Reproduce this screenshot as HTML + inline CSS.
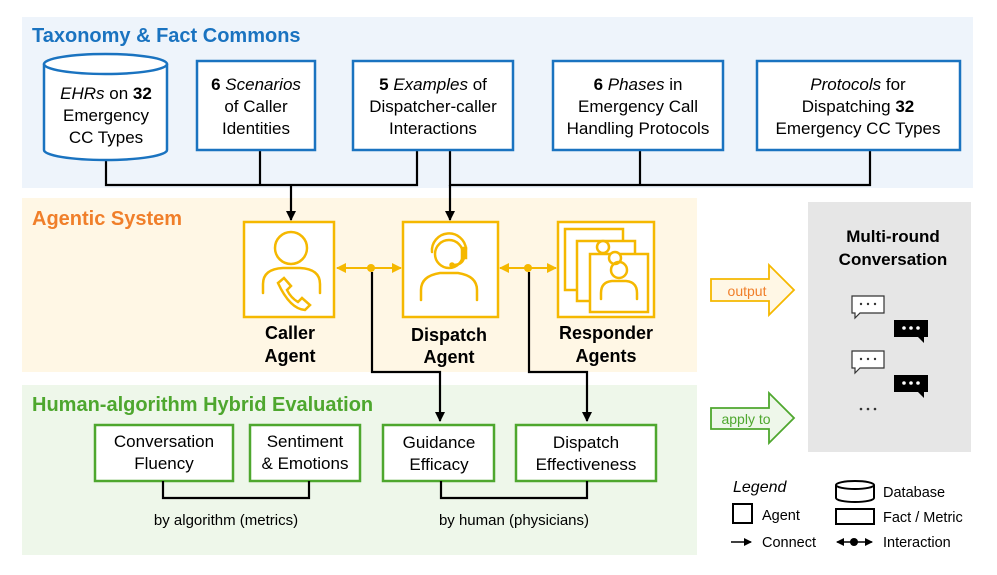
<!DOCTYPE html>
<html><head><meta charset="utf-8"><style>
body{margin:0;background:#fff}
svg{display:block;font-family:"Liberation Sans",Arial,sans-serif}
</style></head><body>
<svg width="997" height="575" viewBox="0 0 997 575" xmlns="http://www.w3.org/2000/svg">
<defs>
<marker id="ar" markerWidth="10" markerHeight="10" refX="9" refY="5" orient="auto" markerUnits="userSpaceOnUse"><path d="M0,0 L10,5 L0,10 z" fill="#000"/></marker>
<marker id="ay" markerWidth="10" markerHeight="10" refX="9" refY="5" orient="auto-start-reverse" markerUnits="userSpaceOnUse"><path d="M0,0 L10,5 L0,10 z" fill="#f5b800"/></marker>
<marker id="ak" markerWidth="8" markerHeight="8" refX="7" refY="4" orient="auto-start-reverse" markerUnits="userSpaceOnUse"><path d="M0,0 L8,4 L0,8 z" fill="#000"/></marker>
</defs>
<rect x="22" y="17" width="951" height="171" fill="#eef4fb"/>
<rect x="22" y="198" width="675" height="174" fill="#fff7e5"/>
<rect x="22" y="385" width="675" height="170" fill="#eef7ea"/>
<rect x="808" y="202" width="163" height="250" fill="#e6e6e6"/>
<text x="32" y="42" font-size="20" font-weight="bold" fill="#1a73c0">Taxonomy &amp; Fact Commons</text>
<text x="32" y="225" font-size="20" font-weight="bold" fill="#f07f2a">Agentic System</text>
<text x="32" y="411" font-size="20" font-weight="bold" fill="#4ea72e">Human-algorithm Hybrid Evaluation</text>

<g stroke="#000" stroke-width="2.2" fill="none">
<polyline points="106,160 106,185 417,185 417,150"/>
<line x1="260" y1="150" x2="260" y2="185"/>
<polyline points="450,150 450,185 870,185 870,150"/>
<line x1="640" y1="150" x2="640" y2="185"/>
<line x1="291" y1="185" x2="291" y2="220" marker-end="url(#ar)"/>
<line x1="450" y1="185" x2="450" y2="220" marker-end="url(#ar)"/>
</g>
<g stroke="#1a73c0" stroke-width="2.5" fill="#fff">
<path d="M44,64 L44,150 A61.5,10 0 0 0 167,150 L167,64"/>
<ellipse cx="105.5" cy="64" rx="61.5" ry="10"/>
<rect x="197" y="61" width="118" height="89"/>
<rect x="353" y="61" width="160" height="89"/>
<rect x="553" y="61" width="170" height="89"/>
<rect x="757" y="61" width="203" height="89"/>
</g>
<g font-size="17" fill="#000" text-anchor="middle">
<text x="106" y="99"><tspan font-style="italic">EHRs</tspan> on <tspan font-weight="bold">32</tspan></text>
<text x="106" y="121">Emergency</text><text x="106" y="143">CC Types</text>
<text x="256" y="90"><tspan font-weight="bold">6</tspan> <tspan font-style="italic">Scenarios</tspan></text>
<text x="256" y="112">of Caller</text><text x="256" y="134">Identities</text>
<text x="433" y="90"><tspan font-weight="bold">5</tspan> <tspan font-style="italic">Examples</tspan> of</text>
<text x="433" y="112">Dispatcher-caller</text><text x="433" y="134">Interactions</text>
<text x="638" y="90"><tspan font-weight="bold">6</tspan> <tspan font-style="italic">Phases</tspan> in</text>
<text x="638" y="112">Emergency Call</text><text x="638" y="134">Handling Protocols</text>
<text x="858" y="90"><tspan font-style="italic">Protocols</tspan> for</text>
<text x="858" y="112">Dispatching <tspan font-weight="bold">32</tspan></text><text x="858" y="134">Emergency CC Types</text>
</g>

<g stroke="#f5b800" stroke-width="2.5" fill="#fff">
<rect x="244" y="222" width="90" height="95"/>
<rect x="403" y="222" width="95" height="95"/>
<rect x="558" y="222" width="96" height="95"/>
<rect x="565" y="229" width="58" height="61"/>
<rect x="577" y="241" width="58" height="60"/>
<rect x="590" y="254" width="58" height="58"/>
</g>
<g stroke="#f5b800" stroke-width="2.5" fill="none" stroke-linecap="round">
<circle cx="291" cy="248" r="16"/>
<path d="M263,293 L263,284 Q263,269 283,268 L300,268 Q320,269 320,284 L320,293"/>
<path d="M278,283 l6,-5 l7,8 l-4,4 q4,8 11,12 l4,-4 l8,7 l-5,5 q-15,-1 -27,-27z" fill="#fff"/>
<circle cx="449" cy="254" r="14"/>
<path d="M432,252 a17,17 0 0 1 34,-3" />
<rect x="462" y="248" width="4" height="10" fill="#f5b800"/>
<path d="M464,258 q-2,7 -11,7"/>
<circle cx="452" cy="265" r="1.5" fill="#f5b800"/>
<path d="M421,300 L421,290 Q421,276 440,273 L458,273 Q477,276 477,290 L477,300"/>
<circle cx="603" cy="247" r="6" fill="#fff"/>
<circle cx="615" cy="258" r="6" fill="#fff"/>
<circle cx="619" cy="270" r="8"/>
<path d="M601,299 L601,293 Q601,282 612,281 L626,281 Q637,282 637,293 L637,299"/>
</g>
<g font-size="18" font-weight="bold" fill="#000" text-anchor="middle">
<text x="290" y="339">Caller</text><text x="290" y="362">Agent</text>
<text x="449" y="341">Dispatch</text><text x="449" y="363">Agent</text>
<text x="606" y="339">Responder</text><text x="606" y="362">Agents</text>
</g>
<g stroke="#f5b800" stroke-width="2">
<line x1="337" y1="268" x2="401" y2="268" marker-start="url(#ay)" marker-end="url(#ay)"/>
<line x1="500" y1="268" x2="556" y2="268" marker-start="url(#ay)" marker-end="url(#ay)"/>
</g>
<circle cx="371" cy="268" r="4" fill="#f5b800"/>
<circle cx="528" cy="268" r="4" fill="#f5b800"/>
<g stroke="#000" stroke-width="2.2" fill="none">
<polyline points="372,272 372,372 440,372 440,421" marker-end="url(#ar)"/>
<polyline points="529,272 529,372 587,372 587,421" marker-end="url(#ar)"/>
</g>

<g stroke="#4ea72e" stroke-width="2.5" fill="#fff">
<rect x="95" y="425" width="138" height="56"/>
<rect x="250" y="425" width="110" height="56"/>
<rect x="383" y="425" width="111" height="56"/>
<rect x="516" y="425" width="140" height="56"/>
</g>
<g stroke="#000" stroke-width="2.2" fill="none">
<polyline points="163,481 163,498 309,498 309,481"/>
<polyline points="441,481 441,498 587,498 587,481"/>
</g>
<g font-size="17" fill="#000" text-anchor="middle">
<text x="164" y="447">Conversation</text><text x="164" y="469">Fluency</text>
<text x="305" y="447">Sentiment</text><text x="305" y="469">&amp; Emotions</text>
<text x="439" y="448">Guidance</text><text x="439" y="470">Efficacy</text>
<text x="586" y="448">Dispatch</text><text x="586" y="470">Effectiveness</text>
<text x="226" y="525" font-size="15">by algorithm (metrics)</text>
<text x="514" y="525" font-size="15">by human (physicians)</text>
</g>

<path d="M711,279 L769,279 L769,265 L794,290 L769,315 L769,301 L711,301 z" fill="#fff7e5" stroke="#f5b800" stroke-width="1.8"/>
<text x="747" y="296" font-size="14" fill="#f07f2a" text-anchor="middle">output</text>
<path d="M711,408 L769,408 L769,393 L794,418 L769,443 L769,429 L711,429 z" fill="#eef7ea" stroke="#4ea72e" stroke-width="1.8"/>
<text x="746" y="424" font-size="14" fill="#4ea72e" text-anchor="middle">apply to</text>

<g font-size="17" font-weight="bold" fill="#000" text-anchor="middle">
<text x="893" y="242">Multi-round</text><text x="893" y="265">Conversation</text>
</g>
<g stroke="#333" stroke-width="1.2" fill="#fff">
<path d="M852,296 h32 v17 h-24 l-5,5 v-5 h-3 z"/>
<path d="M852,351 h32 v17 h-24 l-5,5 v-5 h-3 z"/>
</g>
<g fill="#000">
<path d="M894,320 h34 v17 h-4 v6 l-6,-6 h-24 z"/>
<path d="M894,375 h34 v17 h-4 v6 l-6,-6 h-24 z"/>
</g>
<g fill="#333"><circle cx="861" cy="304" r="1.2"/><circle cx="868" cy="304" r="1.2"/><circle cx="875" cy="304" r="1.2"/>
<circle cx="861" cy="359" r="1.2"/><circle cx="868" cy="359" r="1.2"/><circle cx="875" cy="359" r="1.2"/>
<circle cx="861" cy="409" r="1.3"/><circle cx="868" cy="409" r="1.3"/><circle cx="875" cy="409" r="1.3"/></g>
<g fill="#fff"><circle cx="904" cy="328" r="1.8"/><circle cx="911" cy="328" r="1.8"/><circle cx="918" cy="328" r="1.8"/>
<circle cx="904" cy="383" r="1.8"/><circle cx="911" cy="383" r="1.8"/><circle cx="918" cy="383" r="1.8"/></g>

<text x="733" y="492" font-size="16" font-style="italic">Legend</text>
<rect x="733" y="504" width="19" height="19" fill="#fff" stroke="#000" stroke-width="2"/>
<text x="762" y="520" font-size="14.5">Agent</text>
<line x1="731" y1="542" x2="751" y2="542" stroke="#000" stroke-width="1.5" marker-end="url(#ak)"/>
<text x="762" y="547" font-size="14.5">Connect</text>
<path d="M836,485 v13 a19,4 0 0 0 38,0 v-13" fill="#fff" stroke="#000" stroke-width="2"/>
<ellipse cx="855" cy="485" rx="19" ry="4" fill="#fff" stroke="#000" stroke-width="2"/>
<text x="883" y="497" font-size="14.5">Database</text>
<rect x="836" y="509" width="38" height="15" fill="#fff" stroke="#000" stroke-width="2"/>
<text x="883" y="522" font-size="14.5">Fact / Metric</text>
<line x1="837" y1="542" x2="872" y2="542" stroke="#000" stroke-width="1.5" marker-start="url(#ak)" marker-end="url(#ak)"/>
<circle cx="854" cy="542" r="4" fill="#000"/>
<text x="883" y="547" font-size="14.5">Interaction</text>
</svg>
</body></html>
